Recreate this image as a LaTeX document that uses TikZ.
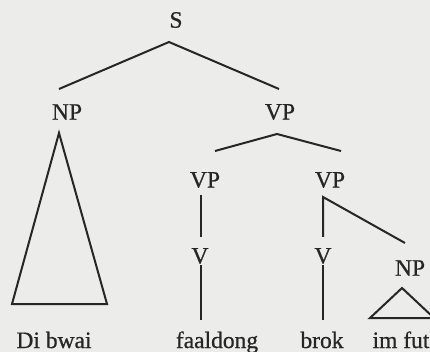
\documentclass[tikz,border=0pt]{standalone}
\usepackage{fontspec}
\setmainfont{Liberation Serif}
\newfontfamily\labfont[FakeBold=0.7]{Liberation Serif}
\definecolor{bg}{HTML}{ECECEA}
\definecolor{ink}{HTML}{262626}
\begin{document}
\begin{tikzpicture}[x=1pt,y=-1pt,
  lab/.style={font=\labfont\fontsize{23.5}{26}\selectfont, text=ink, inner sep=0pt},
  br/.style={draw=ink, line width=2pt, line join=miter}]
\fill[bg] (0,0) rectangle (430,352);
\useasboundingbox (0,0) rectangle (430,352);
% labels
\node[lab] (S) at (176,20) {S};
\node[lab] (NP1) at (67,112) {NP};
\node[lab] (VP1) at (280,112) {VP};
\node[lab] (VP2) at (205,180) {VP};
\node[lab] (VP3) at (330,180) {VP};
\node[lab] (V1) at (200,256) {V};
\node[lab] (V2) at (323,256) {V};
\node[lab] (NP2) at (410,268) {NP};
\node[lab, anchor=base] (w1) at (54,348) {Di bwai};
\node[lab, anchor=base] (w2) at (217,348) {faaldong};
\node[lab, anchor=base] (w3) at (322,348) {brok};
\node[lab, anchor=base] (w4) at (401,348) {im fut};
% branch points
\coordinate (s0) at (169,42);
\coordinate (sl) at (59,89);
\coordinate (sr) at (279,89);
\coordinate (np0) at (59,133);
\coordinate (npl) at (12,304);
\coordinate (npr) at (107,304);
\coordinate (vp0) at (277,134);
\coordinate (vpl) at (215,151);
\coordinate (vpr) at (341,151);
\coordinate (a0) at (201,195);
\coordinate (a1) at (201,237);
\coordinate (a2) at (201,265);
\coordinate (a3) at (201,320);
\coordinate (b0) at (323,197);
\coordinate (b1) at (323,237);
\coordinate (b2) at (323,265);
\coordinate (b3) at (323,320);
\coordinate (bd) at (405,243);
\coordinate (t0) at (402,288);
\coordinate (tl) at (370,318);
\coordinate (tr) at (434,318);
% branches
\draw[br] (sl) -- (s0) -- (sr);
\draw[br] (np0) -- (npl) -- (npr) -- cycle;
\draw[br] (vpl) -- (vp0) -- (vpr);
\draw[br] (a0) -- (a1);
\draw[br] (a2) -- (a3);
\draw[br] (b1) -- (b0) -- (bd);
\draw[br] (b2) -- (b3);
\draw[br] (t0) -- (tl) -- (tr) -- cycle;
\end{tikzpicture}
\end{document}
